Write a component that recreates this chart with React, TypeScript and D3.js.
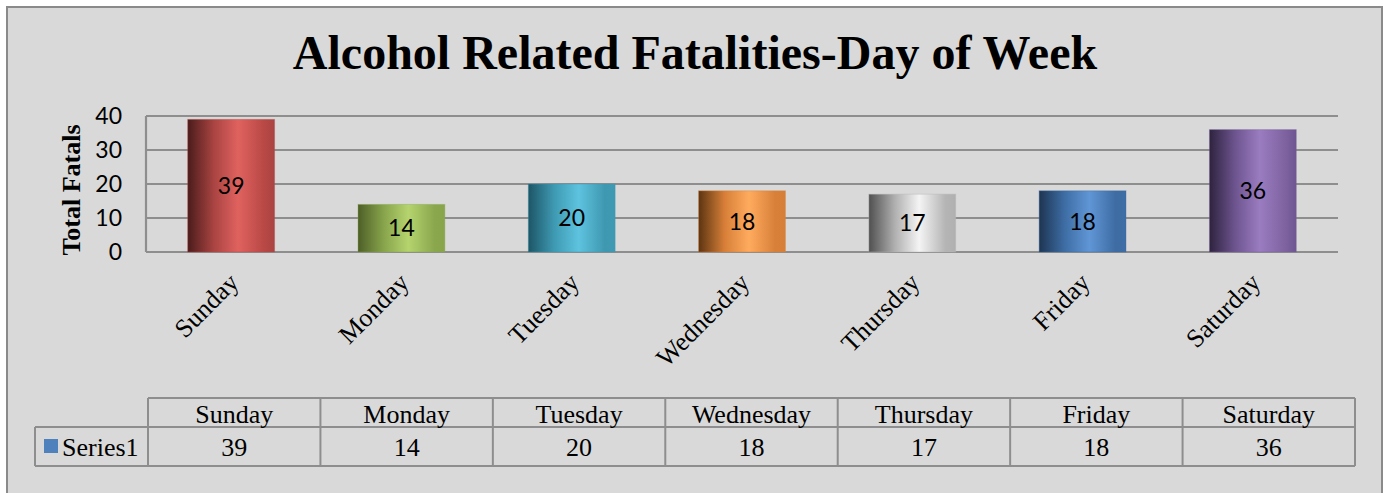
import React from "react";
import * as d3 from "d3";

const categories = ["Sunday", "Monday", "Tuesday", "Wednesday", "Thursday", "Friday", "Saturday"];
const values = [39, 14, 20, 18, 17, 18, 36];
const yTicks = [0, 10, 20, 30, 40];
const seriesName = "Series1";
const barColors = [
  { dark: "#4a1c1b", mid: "#a94442", light: "#e0625f", edge: "#b84845" },
  { dark: "#4e5f28", mid: "#88a54c", light: "#b5d46e", edge: "#8aa74e" },
  { dark: "#1d5566", mid: "#3e9ab3", light: "#5ec3df", edge: "#3f98b0" },
  { dark: "#5c3411", mid: "#d77f38", light: "#ffab5e", edge: "#d8803a" },
  { dark: "#505050", mid: "#b0b0b0", light: "#f4f4f4", edge: "#b5b5b5" },
  { dark: "#1d3552", mid: "#3f6ea6", light: "#6096d6", edge: "#3e6ca3" },
  { dark: "#2e233e", mid: "#6e5590", light: "#9a7cc0", edge: "#7d629f" },
];

const W = 1386;
const H = 493;
const serif = "'Liberation Serif', 'Times New Roman', serif";
const sans = "Lato, 'Open Sans', sans-serif";
const gridColor = "#8e8e8e";

export default function App() {
  const plotL = 146, plotR = 1338, plotT = 116, plotB = 252;
  const x = d3.scaleBand<string>().domain(categories).range([plotL, plotR]).paddingInner(0.49).paddingOuter(0.245);
  const xc = d3.scaleBand<string>().domain(categories).range([plotL, plotR]);
  const y = d3.scaleLinear().domain([0, 40]).range([plotB, plotT]);
  const tx = d3.scaleBand<string>().domain(categories).range([148, 1355]);
  const rowTop = 398, rowMid = 427, rowBot = 466, legL = 35;

  return (
    <svg width={W} height={H} style={{ position: "absolute", left: 0, top: 0 }}>
      <defs>
        {barColors.map((c, i) => (
          <linearGradient key={i} id={`g${i}`} x1="0" x2="1" y1="0" y2="0">
            <stop offset="0%" stopColor={c.dark} />
            <stop offset="30%" stopColor={c.mid} />
            <stop offset="58%" stopColor={c.light} />
            <stop offset="88%" stopColor={c.edge} />
            <stop offset="100%" stopColor={c.mid} />
          </linearGradient>
        ))}
      </defs>
      <rect x={0} y={0} width={W} height={H} fill="#ffffff" />
      <rect x={7} y={7} width={1375} height={H + 10} fill="#d9d9d9" stroke="#8a8a8a" strokeWidth={2} />
      <text x={695} y={69} textAnchor="middle" fontFamily={serif} fontWeight="bold" fontSize={48}>
        Alcohol Related Fatalities-Day of Week
      </text>
      {yTicks.map((t) => (
        <g key={t}>
          <line x1={plotL} x2={plotR} y1={y(t)} y2={y(t)} stroke={gridColor} strokeWidth={2.2} />
          <text x={122} y={y(t)} dy="0.36em" textAnchor="end" fontFamily={sans} fontSize={23}>
            {t}
          </text>
        </g>
      ))}
      <line x1={plotL} x2={plotL} y1={plotT} y2={plotB} stroke={gridColor} strokeWidth={2.2} />
      <text
        transform={`translate(80,${(plotT + plotB) / 2 + 6}) rotate(-90)`}
        textAnchor="middle"
        fontFamily={serif}
        fontWeight="bold"
        fontSize={26}
      >
        Total Fatals
      </text>
      {categories.map((c, i) => (
        <g key={c}>
          <rect
            x={x(c)}
            y={y(values[i])}
            width={x.bandwidth()}
            height={plotB - y(values[i])}
            fill={`url(#g${i})`}
            stroke={barColors[i].edge}
            strokeOpacity={0.4}
            strokeWidth={1}
          />
          <text
            x={x(c)! + x.bandwidth() / 2}
            y={(y(values[i]) + plotB) / 2}
            dy="0.36em"
            textAnchor="middle"
            fontFamily={sans}
            fontSize={23}
          >
            {values[i]}
          </text>
          <text
            transform={`translate(${xc(c)! + xc.bandwidth() / 2 + 9},284) rotate(-45)`}
            textAnchor="end"
            fontFamily={serif}
            fontSize={26}
          >
            {c}
          </text>
        </g>
      ))}
      {/* data table */}
      <g fill="none" stroke={gridColor} strokeWidth={2}>
        <line x1={148} x2={1355} y1={rowTop} y2={rowTop} />
        <line x1={legL} x2={1355} y1={rowMid} y2={rowMid} />
        <line x1={legL} x2={1355} y1={rowBot} y2={rowBot} />
        <line x1={legL} x2={legL} y1={rowMid} y2={rowBot} />
        {categories.map((c) => (
          <line key={c} x1={tx(c)} x2={tx(c)} y1={rowTop} y2={rowBot} />
        ))}
        <line x1={1355} x2={1355} y1={rowTop} y2={rowBot} />
      </g>
      {categories.map((c, i) => (
        <g key={c} fontFamily={serif} fontSize={26} textAnchor="middle">
          <text x={tx(c)! + tx.bandwidth() / 2} y={(rowTop + rowMid) / 2 + 1} dy="0.35em">
            {c}
          </text>
          <text x={tx(c)! + tx.bandwidth() / 2} y={(rowMid + rowBot) / 2} dy="0.35em">
            {values[i]}
          </text>
        </g>
      ))}
      <rect x={44} y={439} width={14} height={14} fill="#4f81bd" />
      <text x={62} y={(rowMid + rowBot) / 2} dy="0.35em" fontFamily={serif} fontSize={26}>
        {seriesName}
      </text>
    </svg>
  );
}
